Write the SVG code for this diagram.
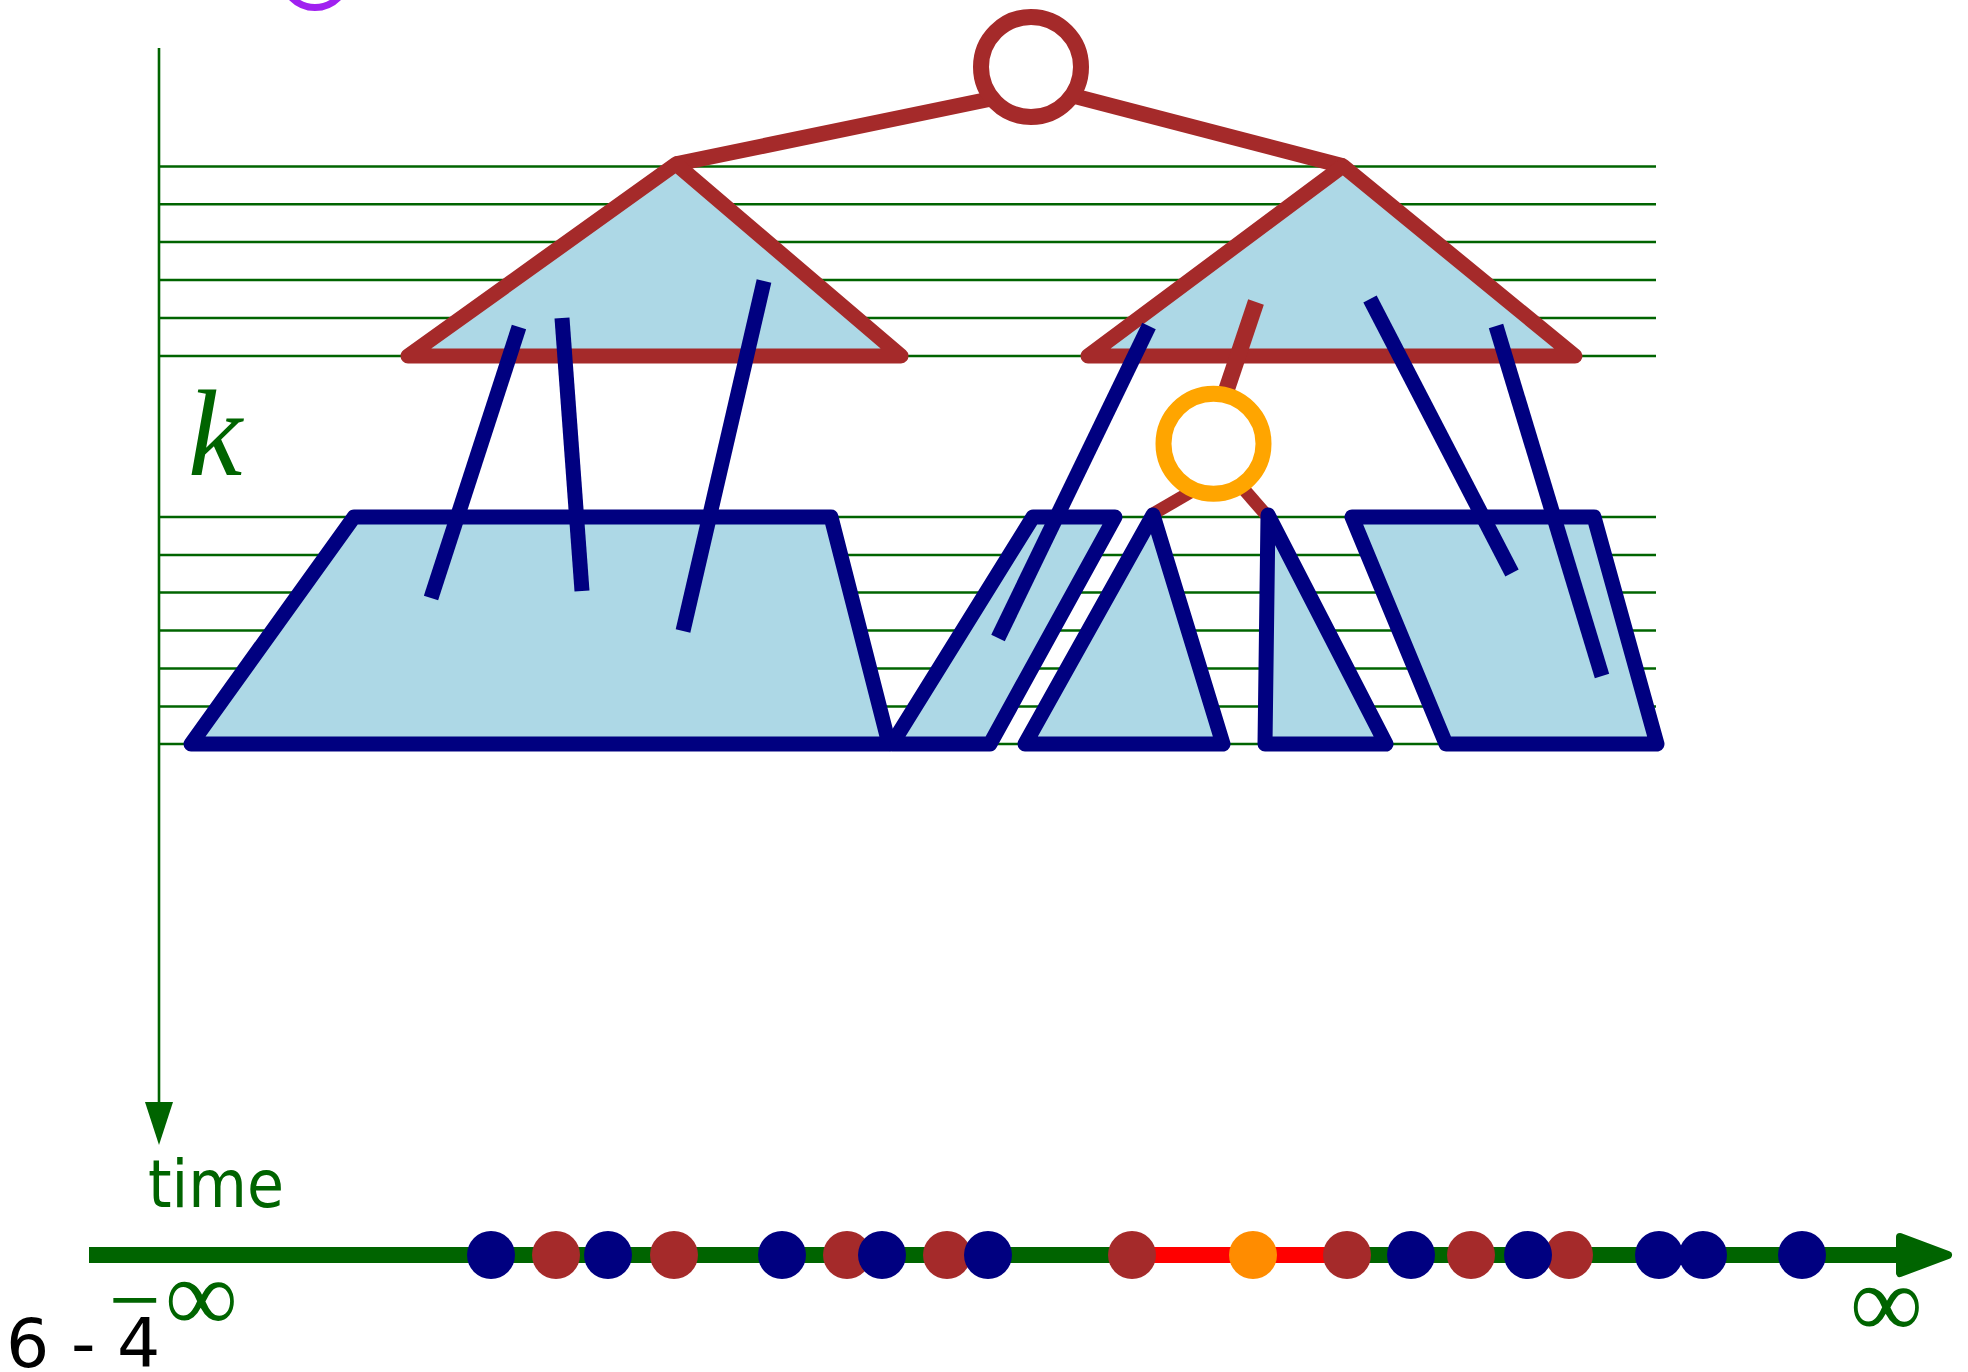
<svg xmlns="http://www.w3.org/2000/svg" width="1968" height="1372" viewBox="0 0 1968 1372">
<style>
.grid{stroke:#006400;stroke-width:2.6;fill:none}
.tri{fill:#ADD8E6;stroke:#A52A2A;stroke-width:15;stroke-linejoin:round}
.blk{fill:#ADD8E6;stroke:#000080;stroke-width:15;stroke-linejoin:round}
.bl{stroke:#000080;stroke-width:15;stroke-linecap:butt;fill:none}
.edge{stroke:#A52A2A;stroke-width:15.5;fill:none}
.edge2{stroke:#A52A2A;stroke-width:13;fill:none}
.db{fill:#000080}
.dr{fill:#A52A2A}
.lbl{fill:#006400}
</style>
<rect width="1968" height="1372" fill="#ffffff"/>
<g id="purple-node"><circle cx="315" cy="-25" r="32.5" fill="none" stroke="#A020F0" stroke-width="7"/></g>
<g id="grid">
<line class="grid" x1="159" y1="48" x2="159" y2="1110"/>
<polygon points="145,1102 173,1102 159,1145" fill="#006400"/>
<line class="grid" x1="159" y1="166.5" x2="1656" y2="166.5"/>
<line class="grid" x1="159" y1="204.3" x2="1656" y2="204.3"/>
<line class="grid" x1="159" y1="242" x2="1656" y2="242"/>
<line class="grid" x1="159" y1="280" x2="1656" y2="280"/>
<line class="grid" x1="159" y1="318" x2="1656" y2="318"/>
<line class="grid" x1="159" y1="356" x2="1656" y2="356"/>
<line class="grid" x1="159" y1="517" x2="1656" y2="517"/>
<line class="grid" x1="159" y1="555" x2="1656" y2="555"/>
<line class="grid" x1="159" y1="592.5" x2="1656" y2="592.5"/>
<line class="grid" x1="159" y1="630.5" x2="1656" y2="630.5"/>
<line class="grid" x1="159" y1="668.5" x2="1656" y2="668.5"/>
<line class="grid" x1="159" y1="706.5" x2="1656" y2="706.5"/>
<line class="grid" x1="159" y1="744" x2="1656" y2="744"/>
</g>
<g id="connectors">
<line class="edge" x1="676" y1="164" x2="1000" y2="97"/>
<line class="edge" x1="1343" y1="166" x2="1070" y2="95"/>
<line class="edge2" x1="1151" y1="515" x2="1213" y2="479"/>
<line class="edge2" x1="1268" y1="517" x2="1220" y2="462"/>
</g>
<g id="tri-left"><polygon class="tri" points="676,164 901,356 408,356"/></g>
<g id="tri-right"><polygon class="tri" points="1343,166 1575,356 1088,356"/></g>
<g id="link-up"><line class="edge" x1="1256" y1="302" x2="1213" y2="430" style="stroke-width:16.5"/></g>
<g id="orange-node"><circle cx="1213.5" cy="443.7" r="50" fill="#ffffff" stroke="#FFA500" stroke-width="16"/></g>
<g id="root-node"><circle cx="1031" cy="67" r="50" fill="#ffffff" stroke="#A52A2A" stroke-width="16"/></g>
<g id="block1"><polygon class="blk" points="354,517 831,517 889,744 191,744"/></g>
<g id="block2"><polygon class="blk" points="1033,517 1115,517 990,744 892,744"/></g>
<g id="block3"><polygon class="blk" points="1153,515 1223,744 1025,744"/></g>
<g id="block4"><polygon class="blk" points="1268,515 1386,744 1265,744"/></g>
<g id="block5"><polygon class="blk" points="1352,517 1594,517 1657,744 1446,744"/></g>
<g id="segments">
<line class="bl" x1="519" y1="327" x2="431" y2="598"/>
<line class="bl" x1="562" y1="318" x2="582" y2="591"/>
<line class="bl" x1="764" y1="281" x2="683" y2="631"/>
<line class="bl" x1="1149" y1="326" x2="998" y2="638"/>
<line class="bl" x1="1370" y1="299" x2="1512" y2="573"/>
<line class="bl" x1="1496" y1="326" x2="1602" y2="676"/>
</g>
<g id="timeline">
<line x1="89" y1="1255" x2="1905" y2="1255" stroke="#006400" stroke-width="16"/>
<polygon points="1900,1237 1948,1255 1900,1273" fill="#006400" stroke="#006400" stroke-width="8" stroke-linejoin="round"/>
<line x1="1132" y1="1255" x2="1347" y2="1255" stroke="#FF0000" stroke-width="16"/>
</g>
<g id="points">
<circle class="dr" cx="556" cy="1255" r="24"/>
<circle class="dr" cx="674" cy="1255" r="24"/>
<circle class="dr" cx="847" cy="1255" r="24"/>
<circle class="dr" cx="947" cy="1255" r="24"/>
<circle class="dr" cx="1132" cy="1255" r="24"/>
<circle class="dr" cx="1347" cy="1255" r="24"/>
<circle class="dr" cx="1471" cy="1255" r="24"/>
<circle class="dr" cx="1569" cy="1255" r="24"/>
<circle class="db" cx="491" cy="1255" r="24"/>
<circle class="db" cx="608" cy="1255" r="24"/>
<circle class="db" cx="782" cy="1255" r="24"/>
<circle class="db" cx="882" cy="1255" r="24"/>
<circle class="db" cx="988" cy="1255" r="24"/>
<circle class="db" cx="1411" cy="1255" r="24"/>
<circle class="db" cx="1528" cy="1255" r="24"/>
<circle class="db" cx="1659" cy="1255" r="24"/>
<circle class="db" cx="1703" cy="1255" r="24"/>
<circle class="db" cx="1802" cy="1255" r="24"/>
<circle cx="1253" cy="1255" r="24" fill="#FF8C00"/>
</g>
<g id="labels">
<text class="lbl" x="188" y="475" font-family="'Liberation Serif', serif" font-style="italic" font-size="122">k</text>
<text class="lbl" x="148" y="1207" font-family="'DejaVu Sans', sans-serif" font-size="66" textLength="136" lengthAdjust="spacingAndGlyphs">time</text>
<text class="lbl" x="109" y="1331" font-family="'Liberation Serif', serif" font-size="92">−<tspan dx="4" font-size="102">∞</tspan></text>
<text class="lbl" x="1850" y="1337" font-family="'Liberation Serif', serif" font-size="102">∞</text>
<text x="6" y="1367" font-family="'DejaVu Sans', sans-serif" font-size="68" fill="#000000">6 - 4</text>
</g>
</svg>
